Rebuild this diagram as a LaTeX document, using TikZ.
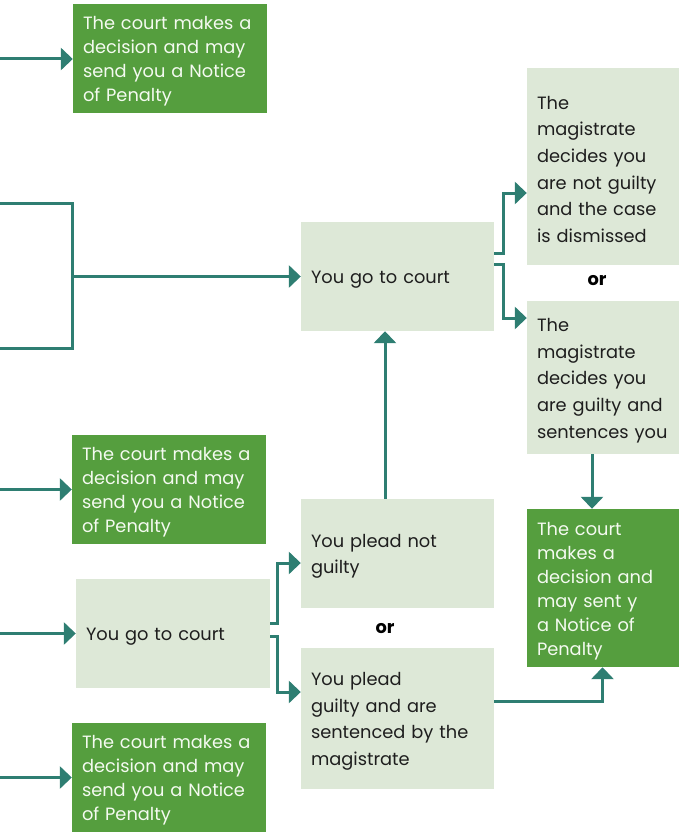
\documentclass[tikz,border=0pt]{standalone}
\usepackage{fontspec}
\setmainfont{Poppins}
\usetikzlibrary{arrows.meta}
\definecolor{darkg}{HTML}{559E3E}
\definecolor{lightg}{HTML}{DDE8D7}
\definecolor{teal2}{HTML}{2E7E72}
\definecolor{txtw}{HTML}{F4FAF0}
\definecolor{txtd}{HTML}{1E1E1E}
\begin{document}
\begin{tikzpicture}[x=1pt,y=-1pt,
  box/.style={rectangle, inner xsep=10pt, inner ysep=0pt, align=left, anchor=center,
    execute at begin node={\rule{0pt}{19pt}}},
  darkbox/.style={box, fill=darkg, text=txtw, font={\fontsize{17.8pt}{24pt}\selectfont}},
  lightbox/.style={box, fill=lightg, text=txtd, font={\fontsize{17.8pt}{26.7pt}\selectfont}},
  conn/.style={draw=teal2, line width=3pt},
  arr/.style={conn, -{Triangle[length=12pt,width=22pt]}},
  orlbl/.style={font={\fontsize{17.8pt}{20pt}\selectfont\bfseries}, text=black}
]
\useasboundingbox (0,0) rectangle (682,832);

% nodes
\node[darkbox, minimum width=194pt, minimum height=109pt, text width=174pt] (d1) at (170,58.5)
  {The court makes a\\decision and may\\send you a Notice\\of Penalty};
\node[darkbox, minimum width=194pt, minimum height=109pt, text width=174pt] (d2) at (169,489.5)
  {The court makes a\\decision and may\\send you a Notice\\of Penalty};
\node[darkbox, minimum width=194pt, minimum height=109pt, text width=174pt] (d3) at (169,777.5)
  {The court makes a\\decision and may\\send you a Notice\\of Penalty};
\node[lightbox, minimum width=194pt, minimum height=109pt, text width=174pt] (c1) at (173,633.5)
  {You go to court};
\node[lightbox, minimum width=193pt, minimum height=109pt, text width=173pt] (c2) at (397.5,276.5)
  {You go to court};
\node[lightbox, minimum width=152pt, minimum height=197pt, text width=132pt] (m1) at (603,166.5)
  {The\\magistrate\\decides you\\are not guilty\\and the case\\is dismissed};
\node[lightbox, minimum width=152pt, minimum height=153pt, text width=132pt] (m2) at (603,377.5)
  {The\\magistrate\\decides you\\are guilty and\\sentences you};
\node[darkbox, minimum width=152pt, minimum height=158pt, text width=132pt] (f) at (603,588)
  {The court\\makes a\\decision and\\may sent y\\a Notice of\\Penalty};
\node[lightbox, minimum width=193pt, minimum height=109pt, text width=173pt] (p1) at (397.5,553.5)
  {You plead not\\guilty};
\node[lightbox, minimum width=193pt, minimum height=141pt, text width=173pt] (p2) at (397.5,718.5)
  {You plead\\guilty and are\\sentenced by the\\magistrate};
\node[orlbl] (or1) at (597,281) {or};
\node[orlbl] (or2) at (385,629) {or};

% free ends
\coordinate (s1) at (0,59);
\coordinate (b1) at (0,203);
\coordinate (b2) at (0,348);
\coordinate (bm) at (72,276.5);
\coordinate (s2) at (0,489.5);
\coordinate (s3) at (0,633.5);
\coordinate (s4) at (0,777.5);

% connectors
\draw[arr] (s1) -- (d1.west |- s1);
\draw[conn] (b1) -| (bm) |- (b2);
\draw[arr] (bm) -- (c2.west);
\draw[arr] (s2) -- (d2.west);
\draw[arr] (s3) -- (c1.west);
\draw[arr] (s4) -- (d3.west);
\draw[arr] ([yshift=10.5pt]c1.east) -- ++(7,0) |- ([yshift=-9.5pt]p1.west);
\draw[arr] ([yshift=-2.5pt]c1.east) -- ++(7,0) |- ([yshift=26.5pt]p2.west);
\draw[arr] ([xshift=-12.5pt]p1.north) -- ([xshift=-12.5pt]c2.south);
\draw[arr] ([yshift=23.5pt]c2.east) -- ++(9,0) |- ([yshift=-26.5pt]m1.west);
\draw[arr] ([yshift=12.5pt]c2.east) -- ++(9,0) |- ([yshift=59.5pt]m2.west);
\draw[arr] ([xshift=-11pt]m2.south) -- ([xshift=-11pt]f.north);
\draw[arr] ([yshift=17.5pt]p2.east) -| ([xshift=-0.5pt]f.south);
\end{tikzpicture}
\end{document}
